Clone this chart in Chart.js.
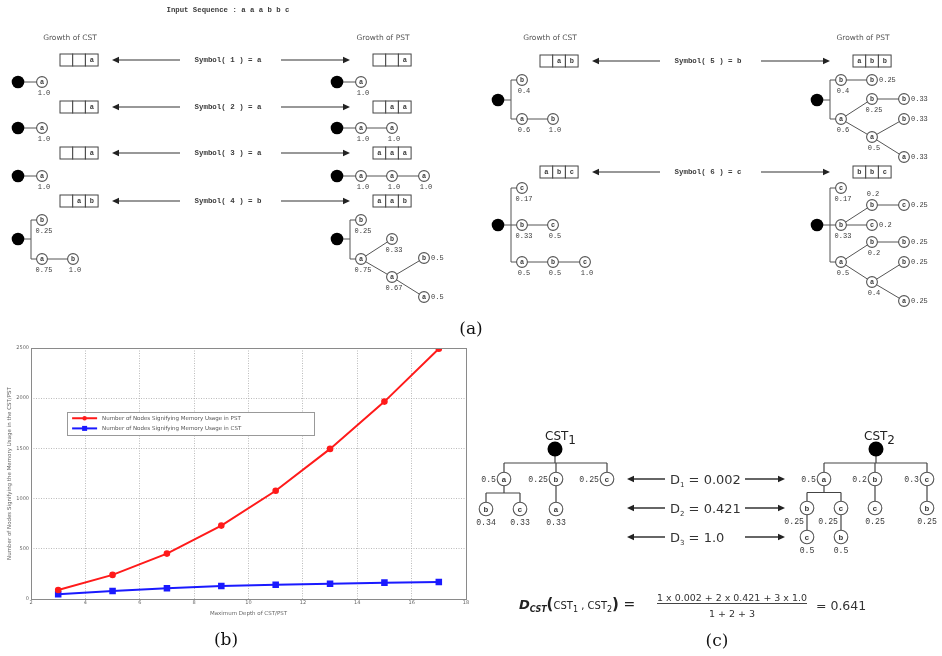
<!DOCTYPE html>
<html><head><meta charset="utf-8">
<script src="https://cdn.jsdelivr.net/npm/chart.js@4.4.1/dist/chart.umd.min.js"></script>
<style>
html,body{margin:0;padding:0;background:#fff;}
#wrap{position:relative;width:942px;height:656px;overflow:hidden;background:#fff;}
#chartBox{position:absolute;left:0;top:336px;width:480px;height:283px;}
#fig{position:absolute;left:0;top:0;}
</style></head><body>
<div id="wrap">
<div id="chartBox"><canvas id="c"></canvas></div>
<svg id="fig" width="942" height="656" xmlns="http://www.w3.org/2000/svg"></svg>
</div>
<script>
// ---------- chart data (panel b) ----------
const depths = [3, 5, 7, 9, 11, 13, 15, 17];
const pstNodes = [90, 240, 452, 731, 1078, 1495, 1966, 2492];
const cstNodes = [47, 80, 106, 130, 143, 153, 163, 170];
const seriesLabels = ['Number of Nodes Signifying Memory Usage in PST', 'Number of Nodes Signifying Memory Usage in CST'];
const xAxisTitle = 'Maximum Depth of CST/PST';
const yAxisTitle = 'Number of Nodes Signifying the Memory Usage in the CST/PST';

const frame = {
  id: 'frame',
  afterDraw(chart) {
    const {ctx, chartArea: a} = chart;
    ctx.save(); ctx.strokeStyle = '#8a8a8a'; ctx.lineWidth = 1;
    ctx.strokeRect(Math.round(a.left) + 0.5, Math.round(a.top) + 0.5, Math.round(a.right - a.left), Math.round(a.bottom - a.top));
    ctx.restore();
  }
};
const insideLegend = {
  id: 'insideLegend',
  afterDraw(chart, args, o) {
    const {ctx, chartArea: a} = chart;
    const W = a.right - a.left, H = a.bottom - a.top;
    const x = a.left + o.x * W, y = a.top + o.y * H, w = o.w * W, h = o.h * H;
    ctx.save();
    ctx.fillStyle = '#fff'; ctx.fillRect(x, y, w, h);
    ctx.strokeStyle = '#999'; ctx.lineWidth = 1; ctx.strokeRect(Math.round(x) + 0.5, Math.round(y) + 0.5, Math.round(w), Math.round(h));
    chart.data.datasets.forEach((ds, i) => {
      const ly = y + h * (0.27 + 0.44 * i);
      ctx.strokeStyle = ds.borderColor; ctx.lineWidth = 2;
      ctx.beginPath(); ctx.moveTo(x + 5, ly); ctx.lineTo(x + 30, ly); ctx.stroke();
      ctx.fillStyle = ds.borderColor;
      if (ds.pointStyle === 'rect') ctx.fillRect(x + 15, ly - 2.5, 5, 5);
      else { ctx.beginPath(); ctx.arc(x + 17.5, ly, 2.2, 0, Math.PI * 2); ctx.fill(); }
      ctx.fillStyle = '#555'; ctx.font = '5.5px "DejaVu Sans"'; ctx.textBaseline = 'middle';
      ctx.fillText(ds.label, x + 35, ly);
    });
    ctx.restore();
  }
};

new Chart(document.getElementById('c'), {
  type: 'line',
  data: {
    datasets: [
      {label: seriesLabels[0], data: depths.map((d, i) => ({x: d, y: pstNodes[i]})), borderColor: '#ff1a1a', backgroundColor: '#ff1a1a', borderWidth: 2, pointRadius: 2.3, pointStyle: 'circle', tension: 0},
      {label: seriesLabels[1], data: depths.map((d, i) => ({x: d, y: cstNodes[i]})), borderColor: '#1a1aff', backgroundColor: '#1a1aff', borderWidth: 2, pointRadius: 3.2, pointStyle: 'rect', tension: 0}
    ]
  },
  options: {
    responsive: true, maintainAspectRatio: false, animation: false,
    layout: {padding: {top: 12, right: 14, left: 0, bottom: 0}},
    plugins: {legend: {display: false}, tooltip: {enabled: false},
      insideLegend: {x: 0.083, y: 0.255, w: 0.568, h: 0.092}},
    scales: {
      x: {type: 'linear', min: 2, max: 18,
        ticks: {stepSize: 2, font: {size: 5, family: 'DejaVu Sans'}, color: '#666', padding: 1, callback: v => String(v)},
        grid: {color: '#aaa', drawTicks: false, lineWidth: 0.8}, border: {display: false, dash: [1, 1.5]},
        title: {display: true, text: xAxisTitle, font: {size: 5.5, family: 'DejaVu Sans'}, color: '#666', padding: {top: 2, bottom: 2}},
        afterFit(s) { s.height = 20; }},
      y: {min: 0, max: 2500,
        ticks: {stepSize: 500, font: {size: 5, family: 'DejaVu Sans'}, color: '#666', padding: 2, callback: v => String(v)},
        grid: {color: '#aaa', drawTicks: false, lineWidth: 0.8}, border: {display: false, dash: [1, 1.5]},
        title: {display: true, text: yAxisTitle, font: {size: 5.5, family: 'DejaVu Sans'}, color: '#666', padding: {top: 6, bottom: 2}},
        afterFit(s) { s.width = 31; }}
    }
  },
  plugins: [frame, insideLegend]
});

// ---------- illustration panels (a) and (c) ----------
const NS = 'http://www.w3.org/2000/svg';
const svg = document.getElementById('fig');
const MONO = '"Liberation Mono", "DejaVu Sans Mono", monospace';
const SANS = '"DejaVu Sans", sans-serif';
const SERIF = '"DejaVu Serif", "Liberation Serif", serif';
const INK = '#3a3a3a';
function el(tag, attrs, text, parent) {
  const e = document.createElementNS(NS, tag);
  for (const k in attrs) e.setAttribute(k, attrs[k]);
  if (text != null) e.textContent = text;
  (parent || svg).appendChild(e); return e;
}
function line(x1, y1, x2, y2, w, c) { el('line', {x1, y1, x2, y2, stroke: c || '#555', 'stroke-width': w || 1}); }
function txt(x, y, s, o) {
  o = o || {};
  const a = {x, y, 'font-family': o.f || MONO, 'font-size': o.s || 7, 'font-weight': o.w || 'normal', 'font-style': o.i || 'normal',
    'text-anchor': o.a || 'middle', 'dominant-baseline': 'central', fill: o.c || INK};
  if (o.len) { a.textLength = o.len; a.lengthAdjust = 'spacingAndGlyphs'; }
  return el('text', a, s);
}
function arrowHead(x, y, dir, L, H) {
  el('polygon', {points: `${x},${y} ${x - dir * L},${y - H} ${x - dir * L},${y + H}`, fill: '#222'});
}
function arrow(tail, head, y, w) {
  const dir = head > tail ? 1 : -1;
  line(tail, y, head - dir * 5, y, w || 1.2, '#333');
  arrowHead(head, y, dir, 7, 3.3);
}
function cells(x, y, chars) {
  const cw = 12.7, h = 12;
  chars.forEach((c, i) => {
    el('rect', {x: x + i * cw, y: y - h / 2, width: cw, height: h, fill: '#fff', stroke: '#444', 'stroke-width': 1});
    if (c) txt(x + i * cw + cw / 2, y, c, {s: 7, w: 'bold'});
  });
}
function rootDot(x, y, r) { el('circle', {cx: x, cy: y, r, fill: '#000'}); }
function node(x, y, ch, r, fs) {
  el('circle', {cx: x, cy: y, r, fill: '#fff', stroke: '#555', 'stroke-width': 1.1});
  txt(x, y + 0.3, ch, {s: fs, w: 'bold'});
}

// panel (a) texts
txt(228, 10, 'Input Sequence : a a a b b c', {s: 7.3, w: 'bold', len: 123});
[0, 480].forEach(ox => {
  txt(ox + 70, 37, 'Growth of CST', {f: SANS, s: 7.5, c: '#555'});
  txt(ox + 383, 37, 'Growth of PST', {f: SANS, s: 7.5, c: '#555'});
});
const symbolRows = [
  {ox: 0, y: 60, n: 1, s: 'a', cst: ['', '', 'a'], pst: ['', '', 'a']},
  {ox: 0, y: 107, n: 2, s: 'a', cst: ['', '', 'a'], pst: ['', 'a', 'a']},
  {ox: 0, y: 153, n: 3, s: 'a', cst: ['', '', 'a'], pst: ['a', 'a', 'a']},
  {ox: 0, y: 201, n: 4, s: 'b', cst: ['', 'a', 'b'], pst: ['a', 'a', 'b']},
  {ox: 480, y: 61, n: 5, s: 'b', cst: ['', 'a', 'b'], pst: ['a', 'b', 'b']},
  {ox: 480, y: 172, n: 6, s: 'c', cst: ['a', 'b', 'c'], pst: ['b', 'b', 'c']}
];
symbolRows.forEach(r => {
  cells(r.ox + 60, r.y, r.cst);
  cells(r.ox + 373, r.y, r.pst);
  arrow(r.ox + 180, r.ox + 112, r.y);
  arrow(r.ox + 281, r.ox + 350, r.y);
  txt(r.ox + 228, r.y, `Symbol( ${r.n} ) = ${r.s}`, {s: 7.4, w: 'bold', len: 67});
});

// trees: [column, dy, letter, label, labelPos, parent]
const COLS = [0, 24, 55, 87];
function tree(rx, ry, nodes) {
  const pos = nodes.map(n => ({x: rx + COLS[n[0]], y: ry + n[1]}));
  const kids = nodes.map((n, i) => i).filter(i => nodes[i][5] < 0);
  if (kids.length === 1) line(rx, ry, pos[kids[0]].x, pos[kids[0]].y);
  else {
    const bx = rx + 13, ys = kids.map(i => pos[i].y);
    line(rx, ry, bx, ry);
    line(bx, Math.min(...ys), bx, Math.max(...ys));
    kids.forEach(i => line(bx, pos[i].y, pos[i].x, pos[i].y));
  }
  nodes.forEach((n, i) => { if (n[5] >= 0) line(pos[n[5]].x, pos[n[5]].y, pos[i].x, pos[i].y); });
  rootDot(rx, ry, 6.3);
  nodes.forEach((n, i) => {
    const p = pos[i];
    node(p.x, p.y, n[2], 5.4, 6.8);
    const lp = n[4] || 'b';
    if (lp === 'b') txt(p.x + 2, p.y + 11, n[3], {s: 7});
    else if (lp === 'r') txt(p.x + 7, p.y, n[3], {s: 7, a: 'start'});
    else if (lp === 'a') txt(p.x + 1, p.y - 11, n[3], {s: 7});
  });
}
const P = -1;
const single = [[1, 0, 'a', '1.0', 'b', P]];
tree(18, 82, single); tree(337, 82, single);
tree(18, 128, single); tree(337, 128, [[1, 0, 'a', '1.0', 'b', P], [2, 0, 'a', '1.0', 'b', 0]]);
tree(18, 176, single); tree(337, 176, [[1, 0, 'a', '1.0', 'b', P], [2, 0, 'a', '1.0', 'b', 0], [3, 0, 'a', '1.0', 'b', 1]]);
tree(18, 239, [[1, -19, 'b', '0.25', 'b', P], [1, 20, 'a', '0.75', 'b', P], [2, 20, 'b', '1.0', 'b', 1]]);
tree(337, 239, [[1, -19, 'b', '0.25', 'b', P], [1, 20, 'a', '0.75', 'b', P], [2, 0, 'b', '0.33', 'b', 1],
  [2, 38, 'a', '0.67', 'b', 1], [3, 19, 'b', '0.5', 'r', 3], [3, 58, 'a', '0.5', 'r', 3]]);
tree(498, 100, [[1, -20, 'b', '0.4', 'b', P], [1, 19, 'a', '0.6', 'b', P], [2, 19, 'b', '1.0', 'b', 1]]);
tree(817, 100, [[1, -20, 'b', '0.4', 'b', P], [2, -20, 'b', '0.25', 'r', 0], [1, 19, 'a', '0.6', 'b', P],
  [2, -1, 'b', '0.25', 'b', 2], [3, -1, 'b', '0.33', 'r', 3], [2, 37, 'a', '0.5', 'b', 2],
  [3, 19, 'b', '0.33', 'r', 5], [3, 57, 'a', '0.33', 'r', 5]]);
tree(498, 225, [[1, -37, 'c', '0.17', 'b', P], [1, 0, 'b', '0.33', 'b', P], [2, 0, 'c', '0.5', 'b', 1],
  [1, 37, 'a', '0.5', 'b', P], [2, 37, 'b', '0.5', 'b', 3], [3, 37, 'c', '1.0', 'b', 4]]);
tree(817, 225, [[1, -37, 'c', '0.17', 'b', P], [1, 0, 'b', '0.33', 'b', P], [2, -20, 'b', '0.2', 'a', 1],
  [3, -20, 'c', '0.25', 'r', 2], [2, 0, 'c', '0.2', 'r', 1], [1, 37, 'a', '0.5', 'b', P],
  [2, 17, 'b', '0.2', 'b', 5], [3, 17, 'b', '0.25', 'r', 6], [2, 57, 'a', '0.4', 'b', 5],
  [3, 37, 'b', '0.25', 'r', 8], [3, 76, 'a', '0.25', 'r', 8]]);

// panel (c): orthogonal trees [x, y, letter, label, labelPos, parent]
function otree(rx, ry, nodes) {
  const all = [{x: rx, y: ry}].concat(nodes.map(n => ({x: n[0], y: n[1]})));
  for (let p = 0; p < all.length; p++) {
    const ks = nodes.map((n, i) => i).filter(i => nodes[i][5] + 1 === p);
    if (!ks.length) continue;
    const par = all[p];
    if (ks.length === 1) { line(par.x, par.y, all[ks[0] + 1].x, all[ks[0] + 1].y, 1.2, '#444'); continue; }
    const my = (par.y + all[ks[0] + 1].y) / 2 - 1;
    const xs = ks.map(i => all[i + 1].x);
    line(par.x, par.y, par.x, my, 1.2, '#444');
    line(Math.min(...xs), my, Math.max(...xs), my, 1.2, '#444');
    ks.forEach(i => line(all[i + 1].x, my, all[i + 1].x, all[i + 1].y, 1.2, '#444'));
  }
  rootDot(rx, ry, 7.5);
  nodes.forEach(n => {
    node(n[0], n[1], n[2], 6.8, 8);
    if (n[4] === 'l') txt(n[0] - 8, n[1], n[3], {s: 8.2, a: 'end'});
    else if (n[4] === 'lb') txt(n[0] - 3, n[1] + 13, n[3], {s: 8.2, a: 'end'});
    else txt(n[0], n[1] + 13, n[3], {s: 8.2});
  });
}
otree(555, 449, [[504, 479, 'a', '0.5', 'l', -1], [556, 479, 'b', '0.25', 'l', -1], [607, 479, 'c', '0.25', 'l', -1],
  [486, 509, 'b', '0.34', 'b', 0], [520, 509, 'c', '0.33', 'b', 0], [556, 509, 'a', '0.33', 'b', 1]]);
otree(876, 449, [[824, 479, 'a', '0.5', 'l', -1], [875, 479, 'b', '0.2', 'l', -1], [927, 479, 'c', '0.3', 'l', -1],
  [807, 508, 'b', '0.25', 'lb', 0], [841, 508, 'c', '0.25', 'lb', 0], [875, 508, 'c', '0.25', 'b', 1],
  [927, 508, 'b', '0.25', 'b', 2], [807, 537, 'c', '0.5', 'b', 3], [841, 537, 'b', '0.5', 'b', 4]]);
function cstLabel(x, y, sub) {
  const t = el('text', {x, y, 'font-family': SANS, 'font-size': 12, fill: '#222', 'text-anchor': 'start'});
  el('tspan', {}, 'CST', t); el('tspan', {dy: 4, 'font-size': 12}, sub, t);
}
cstLabel(545, 440, '1'); cstLabel(864, 440, '2');
const dRows = [{y: 479, n: '1', v: '0.002'}, {y: 508, n: '2', v: '0.421'}, {y: 537, n: '3', v: '1.0'}];
dRows.forEach(r => {
  arrow(665, 627, r.y, 1.3);
  const t = el('text', {x: 670, y: r.y + 4.5, 'font-family': SANS, 'font-size': 13, fill: '#333'});
  el('tspan', {}, 'D', t); el('tspan', {dy: 3, 'font-size': 7}, r.n, t); el('tspan', {dy: -3}, ' =  ' + r.v, t);
  arrow(745, 785, r.y, 1.3);
});
// formula
(function () {
  const t = el('text', {x: 519, y: 609, 'font-family': SANS, fill: '#222'});
  el('tspan', {'font-size': 13, 'font-weight': 'bold', 'font-style': 'italic'}, 'D', t);
  el('tspan', {'font-size': 8, 'font-weight': 'bold', 'font-style': 'italic', dy: 3}, 'CST', t);
  el('tspan', {'font-size': 15, 'font-weight': 'bold', dy: -3}, '(', t);
  el('tspan', {'font-size': 10}, 'CST', t);
  el('tspan', {'font-size': 8, dy: 3}, '1', t);
  el('tspan', {'font-size': 10, dy: -3}, ' , CST', t);
  el('tspan', {'font-size': 8, dy: 3}, '2', t);
  el('tspan', {'font-size': 15, 'font-weight': 'bold', dy: -3}, ')', t);
  el('tspan', {'font-size': 14}, '  =', t);
  txt(732, 597, '1 x 0.002 + 2 x 0.421 + 3 x 1.0', {f: SANS, s: 9.5, c: '#333', len: 150});
  line(657, 603.5, 807, 603.5, 1, '#444');
  txt(732, 613, '1 + 2 + 3', {f: SANS, s: 9.5, c: '#333'});
  txt(816, 605, '= 0.641', {f: SANS, s: 12.5, c: '#333', a: 'start'});
})();
// panel captions
txt(471, 328, '(a)', {f: SERIF, s: 17, c: '#111'});
txt(226, 639, '(b)', {f: SERIF, s: 17, c: '#111'});
txt(717, 640, '(c)', {f: SERIF, s: 17, c: '#111'});
</script>
</body></html>
